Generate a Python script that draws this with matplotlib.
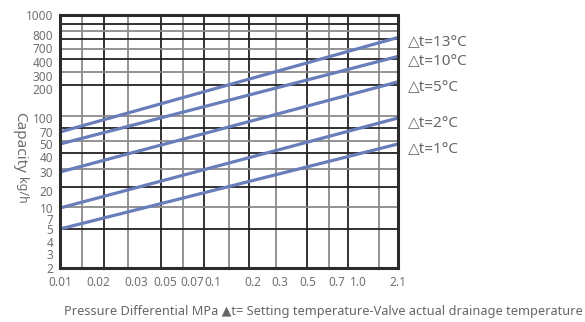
import numpy as np
import matplotlib.pyplot as plt
from matplotlib.ticker import FixedLocator, NullFormatter

plt.rcParams['font.family'] = ['Noto Sans', 'DejaVu Sans']

# chart data
dt_labels = ['△t=13°C', '△t=10°C', '△t=5°C', '△t=2°C', '△t=1°C']
pressure = [0.01, 2.1]
capacity = [[70, 780], [50, 500], [30, 250], [10, 100], [5, 50]]

x_ticks = [0.01, 0.02, 0.03, 0.05, 0.07, 0.1, 0.2, 0.3, 0.5, 0.7, 1.0, 2.1]
x_ticklabels = ['0.01', '0.02', '0.03', '0.05', '0.07', '0.1', '0.2', '0.3',
                '0.5', '0.7', '1.0', '2.1']
y_ticks = [2, 3, 4, 5, 7, 10, 20, 30, 40, 50, 70, 100, 200, 300, 400, 700, 800, 1000]

# the printed scale is hand spaced: where each tick sits along the axis (0..1)
x_pos = np.array([0, 38, 76, 105, 132, 153, 193, 220, 248, 277, 298, 338]) / 338
y_pos = (268 - np.array([268, 254, 242, 229, 219, 208, 191, 172, 157, 144, 132,
                         118, 89, 76, 62, 48, 35, 15])) / 253
# grid lines of the printed chart (axis fraction)
x_grid = (np.array([82, 104, 128, 161, 183, 204, 229, 249, 276, 307, 329, 348, 379]) - 60) / 338
y_grid = (268 - np.array([24, 31, 39, 49, 59, 72, 85, 116, 128, 141, 153, 169, 187, 207, 229])) / 253


def make_scale(vals, pos):
    lv = np.log10(vals)
    fwd = lambda v: np.interp(np.log10(np.clip(v, 1e-9, None)), lv, pos)
    inv = lambda p: 10 ** np.interp(p, pos, lv)
    return fwd, inv


xf, xi = make_scale(x_ticks, x_pos)
yf, yi = make_scale(y_ticks, y_pos)

fig = plt.figure(figsize=(5.85, 3.22), dpi=100)
ax = fig.add_axes([60 / 585, 54 / 322, 338 / 585, 253 / 322])
ax.set_xscale('function', functions=(xf, xi))
ax.set_yscale('function', functions=(yf, yi))
ax.set_xlim(0.01, 2.1)
ax.set_ylim(2, 1000)

for i, xg in enumerate(x_grid):
    ax.axvline(xi(xg), color='#222222' if i % 2 else '#8a8a8a', lw=1.3, zorder=1)
for i, yg in enumerate(y_grid):
    ax.axhline(yi(yg), color='#222222' if i % 2 == 0 else '#8a8a8a', lw=1.3, zorder=1)

for lab, cap in zip(dt_labels, capacity):
    ax.plot(pressure, cap, color='#6a7dbb', lw=2.3, zorder=3, clip_on=False,
            solid_capstyle='butt')
    ax.annotate(lab, xy=(pressure[-1], cap[-1]), xytext=(7, -4),
                textcoords='offset points', va='center', ha='left',
                fontsize=11, color='#666666', annotation_clip=False)

ax.xaxis.set_major_locator(FixedLocator(x_ticks))
ax.set_xticklabels(x_ticklabels)
ax.yaxis.set_major_locator(FixedLocator(y_ticks))
ax.set_yticklabels([str(v) for v in y_ticks])
ax.xaxis.set_minor_formatter(NullFormatter())
ax.yaxis.set_minor_formatter(NullFormatter())
ax.tick_params(which='both', length=0, labelsize=8.5, labelcolor='#707070')
ax.tick_params(axis='x', pad=6)
ax.tick_params(axis='y', pad=5)

for s in ax.spines.values():
    s.set_linewidth(2.2)
    s.set_color('#2b2b2b')
    s.set_zorder(4)

fig.text(20 / 585, 1 - 142 / 322, 'Capacity', rotation=-90, ha='center', va='center',
         fontsize=11, color='#707070')
fig.text(21 / 585, 1 - 190 / 322, 'kg/h', rotation=-90, ha='center', va='center',
         fontsize=9, color='#707070')

fig.text(583 / 585, 1 - 312 / 322,
         'Pressure Differential MPa ▲t= Setting temperature-Valve actual drainage temperature',
         ha='right', va='center', fontsize=9.2, color='#666666')

plt.savefig('out.png', dpi=100)
